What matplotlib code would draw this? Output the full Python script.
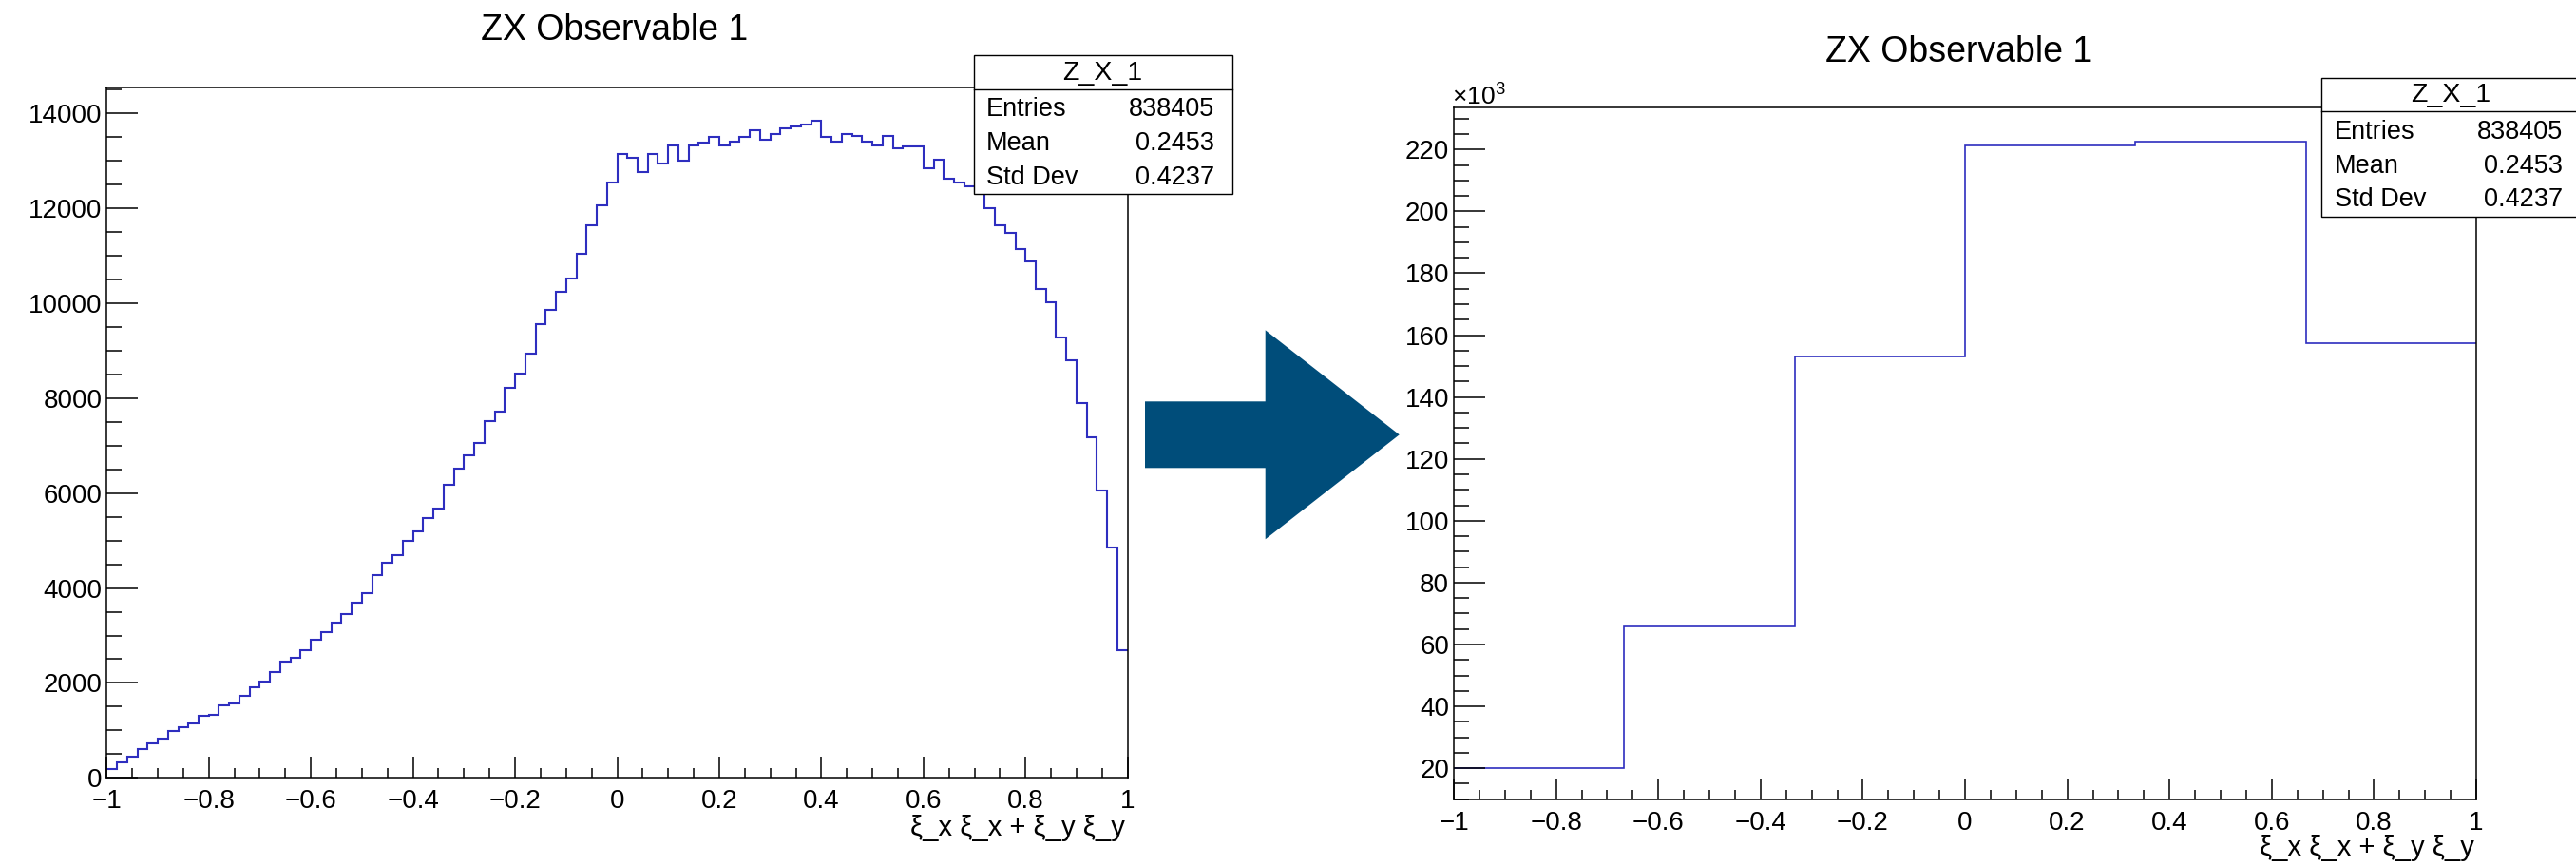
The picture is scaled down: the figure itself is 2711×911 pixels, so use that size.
import numpy as np
import matplotlib
matplotlib.use("Agg")
import matplotlib.pyplot as plt
from matplotlib.ticker import MultipleLocator, FuncFormatter
from matplotlib.patches import Rectangle, Polygon
from matplotlib.lines import Line2D

plt.rcParams['font.family'] = ['Liberation Sans', 'DejaVu Sans']
plt.rcParams['mathtext.fontset'] = 'custom'
plt.rcParams['mathtext.rm'] = 'Liberation Sans'

W, H = 2711, 911

title = "ZX Observable 1"
xlabel = "ξ_x ξ_x + ξ_y ξ_y"
stats_name = "Z_X_1"
stats_labels = ["Entries", "Mean", "Std Dev"]
stats_values = ["838405", "0.2453", "0.4237"]

# 100 bins on [-1, 1]
fine_counts = [
    187, 333, 447, 600, 720, 833, 987, 1067, 1153, 1300,
    1333, 1533, 1567, 1720, 1913, 2033, 2233, 2453, 2533, 2687,
    2913, 3067, 3267, 3453, 3687, 3887, 4280, 4533, 4700, 5000,
    5200, 5467, 5667, 6167, 6513, 6786, 7053, 7520, 7713, 8213,
    8513, 8933, 9566, 9866, 10246, 10520, 11033, 11646, 12066, 12533,
    13146, 13066, 12766, 13146, 12953, 13333, 13000, 13333, 13380, 13500,
    13333, 13413, 13500, 13653, 13453, 13566, 13686, 13720, 13766, 13853,
    13500, 13413, 13566, 13533, 13413, 13333, 13533, 13266, 13313, 13313,
    12846, 13020, 12633, 12533, 12453, 12366, 12000, 11646, 11486, 11133,
    10886, 10300, 10020, 9286, 8800, 7900, 7166, 6046, 4846, 2686,
]
# 6 bins on [-1, 1]
coarse_counts = [20000, 65700, 153200, 221300, 222400, 157300]

line_color = '#2e2ebf'
arrow_color = '#004d7a'


def fx(x):
    return x / W


def fy(y):
    return 1 - y / H


def panel(left, top, right, bottom):
    return fig.add_axes([fx(left), fy(bottom), fx(right) - fx(left), fy(top) - fy(bottom)])


def fmt_num(v, pos):
    if abs(v) < 1e-9:
        return '0'
    return ('%g' % round(v, 6)).replace('-', '\u2212')


def style_axes(ax):
    for s in ax.spines.values():
        s.set_linewidth(1.1)
    ax.xaxis.set_major_locator(MultipleLocator(0.2))
    ax.xaxis.set_minor_locator(MultipleLocator(0.05))
    ax.xaxis.set_major_formatter(FuncFormatter(fmt_num))
    ax.tick_params(axis='x', which='major', direction='in', length=15.5, width=1.1,
                   labelsize=20, pad=8.5, top=False)
    ax.tick_params(axis='x', which='minor', direction='in', length=7.5, width=1.1, top=False)
    ax.tick_params(axis='y', which='major', direction='in', length=23.5, width=1.1,
                   labelsize=20, pad=3.5, right=False)
    ax.tick_params(axis='y', which='minor', direction='in', length=11.5, width=1.1, right=False)


def stats_box(left, top):
    bw, bh, div = 272, 146, 35.5
    fig.add_artist(Rectangle((fx(left), fy(top + bh)), bw / W, bh / H,
                             facecolor='white', edgecolor='black', lw=1.0, zorder=5))
    fig.add_artist(Line2D([fx(left), fx(left + bw)], [fy(top + div)] * 2,
                          color='black', lw=1.0, zorder=6))
    fig.text(fx(left + bw / 2), fy(top + 18.5), stats_name, ha='center', va='center',
             fontsize=20.5, zorder=7)
    for i, (lab, val) in enumerate(zip(stats_labels, stats_values)):
        y = top + 57 + 35.8 * i
        fig.text(fx(left + 13.5), fy(y), lab, ha='left', va='center', fontsize=19.5, zorder=7)
        fig.text(fx(left + 253.5), fy(y), val, ha='right', va='center', fontsize=19.5, zorder=7)


fig = plt.figure(figsize=(W / 100, H / 100), dpi=100)

# left: fine binning
ax1 = panel(112.3, 92, 1186.7, 818.3)
edges1 = np.linspace(-1, 1, len(fine_counts) + 1)
ax1.stairs(fine_counts, edges1, baseline=None, color=line_color, lw=1.5)
ax1.set_xlim(-1, 1)
ax1.set_ylim(0, 1.05 * max(fine_counts))
style_axes(ax1)
ax1.yaxis.set_major_locator(MultipleLocator(2000))
ax1.yaxis.set_minor_locator(MultipleLocator(500))
ax1.yaxis.set_major_formatter(FuncFormatter(fmt_num))

# right: coarse binning
ax2 = panel(1530, 113.3, 2606, 840.7)
edges2 = np.linspace(-1, 1, len(coarse_counts) + 1)
ax2.stairs(coarse_counts, edges2, baseline=None, color=line_color, lw=1.2)
ax2.set_xlim(-1, 1)
ax2.set_ylim(10000, 1.05 * max(coarse_counts))
style_axes(ax2)
ax2.yaxis.set_major_locator(MultipleLocator(20000))
ax2.yaxis.set_minor_locator(MultipleLocator(5000))
ax2.yaxis.set_major_formatter(FuncFormatter(lambda v, p: '%g' % round(v / 1000, 3)))

fig.text(fx(1528), fy(110), r'$\times10^{3}$', ha='left', va='baseline', fontsize=19)

# titles, axis labels
fig.text(fx(647), fy(32), title, ha='center', va='center', fontsize=27)
fig.text(fx(2062), fy(55), title, ha='center', va='center', fontsize=27)
fig.text(fx(1184), fy(871), xlabel, ha='right', va='center', fontsize=21)
fig.text(fx(2604), fy(892), xlabel, ha='right', va='center', fontsize=21)

stats_box(1024.5, 58)
stats_box(2443.3, 81.7)

# arrow between the panels
arrow_pts = [(1205, 422.3), (1331.7, 422.3), (1331.7, 347.3), (1472.7, 457.3),
             (1331.7, 567.3), (1331.7, 492.3), (1205, 492.3)]
fig.add_artist(Polygon([(fx(x), fy(y)) for x, y in arrow_pts], closed=True,
                       facecolor=arrow_color, edgecolor='none'))

fig.savefig("out.png", dpi=100)
